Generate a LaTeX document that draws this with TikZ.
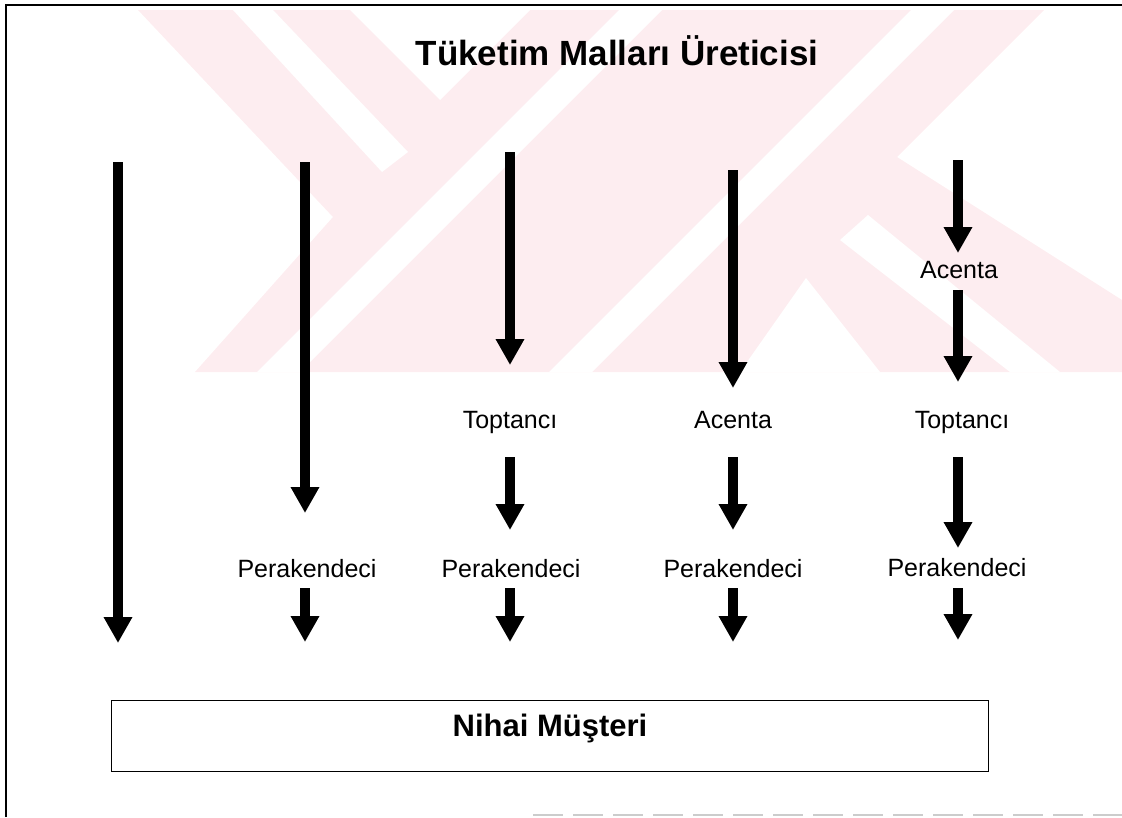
\documentclass[tikz,border=0pt]{standalone}
\usepackage{fontspec}
\setmainfont{Liberation Sans}
\usepackage{tikz}
\usetikzlibrary{positioning}
\usetikzlibrary{arrows.meta}
\definecolor{wmpink}{RGB}{253,237,240}

\begin{document}
\begin{tikzpicture}[x=1pt, y=-1pt, >={Triangle[width=27pt,length=26pt]},
lbl/.style={font=\fontsize{25}{30}\selectfont, inner sep=0pt, anchor=base, name=#1},
hd/.style={font=\fontsize{35}{42}\selectfont\bfseries, inner sep=0pt, anchor=base},
arr/.style={->, line width=10pt},
box/.style={draw, line width=1.3pt, inner sep=0pt, minimum width=877pt, minimum height=71pt}]

\useasboundingbox (0,0) rectangle (1122,817);

% watermark
\begin{scope}
\clip (138,10) rectangle (1122,372);
\fill[wmpink] (138,10) -- (1044,10) -- (897,157) -- (1122,300) -- (1122,372) -- (195,372) -- (333,217) -- cycle;
\fill[white] (350,10) -- (440,100) -- (530,10) -- cycle;
\fill[white] (233,10) -- (273,10) -- (408,152) -- (382,172) -- cycle;
\fill[white] (257,372) -- (300,372) -- (662,10) -- (619,10) -- cycle;
\fill[white] (549,372) -- (592,372) -- (954,10) -- (911,10) -- cycle;
\fill[white] (740,372) -- (806,278) -- (880,372) -- cycle;
\fill[white] (840,240) -- (868,215) -- (1060,372) -- (1010,372) -- cycle;
\end{scope}
\draw[gray!40, line width=2pt, dash pattern=on 30pt off 10pt] (533,815) -- (1122,815);

% frame
\draw[line width=1.5pt] (6,817) -- (6,5);
\draw[line width=2pt] (5,5) -- (1122,5);

% producer and customer
\node[hd] (prod) at (617,65) {Tüketim Malları Üreticisi};
\node[box] (cust) at (550,736) {};
\node[hd, font=\fontsize{31}{37}\selectfont\bfseries] (custlbl) at (550,736) {Nihai Müşteri};

% channel 1
\coordinate (s1) at (118,162);
\coordinate (e1) at (118,643);
\draw[arr] (s1) -- (e1);

% channel 2
\coordinate (s2) at (305,162);
\coordinate (e2) at (305,513);
\node[lbl=per2] at (307,577) {Perakendeci};
\coordinate (s2b) at (305,588);
\coordinate (e2b) at (305,642);
\draw[arr] (s2) -- (e2);
\draw[arr] (s2b) -- (e2b);

% channel 3
\coordinate (s3) at (510,152);
\coordinate (e3) at (510,365);
\node[lbl=top3] at (510,428) {Toptancı};
\coordinate (s3a) at (510,457);
\coordinate (e3a) at (510,530);
\node[lbl=per3] at (511,577) {Perakendeci};
\coordinate (s3b) at (510,588);
\coordinate (e3b) at (510,642);
\draw[arr] (s3) -- (e3);
\draw[arr] (s3a) -- (e3a);
\draw[arr] (s3b) -- (e3b);

% channel 4
\coordinate (s4) at (733,170);
\coordinate (e4) at (733,388);
\node[lbl=ac4] at (733,428) {Acenta};
\coordinate (s4a) at (733,457);
\coordinate (e4a) at (733,530);
\node[lbl=per4] at (733,577) {Perakendeci};
\coordinate (s4b) at (733,588);
\coordinate (e4b) at (733,642);
\draw[arr] (s4) -- (e4);
\draw[arr] (s4a) -- (e4a);
\draw[arr] (s4b) -- (e4b);

% channel 5
\coordinate (s5) at (958,160);
\coordinate (e5) at (958,253);
\node[lbl=ac5] at (959,278) {Acenta};
\coordinate (s5a) at (958,290);
\coordinate (e5a) at (958,382);
\node[lbl=top5] at (962,428) {Toptancı};
\coordinate (s5b) at (958,457);
\coordinate (e5b) at (958,548);
\node[lbl=per5] at (957,576) {Perakendeci};
\coordinate (s5c) at (958,588);
\coordinate (e5c) at (958,640);
\draw[arr] (s5) -- (e5);
\draw[arr] (s5a) -- (e5a);
\draw[arr] (s5b) -- (e5b);
\draw[arr] (s5c) -- (e5c);

\end{tikzpicture}
\end{document}
